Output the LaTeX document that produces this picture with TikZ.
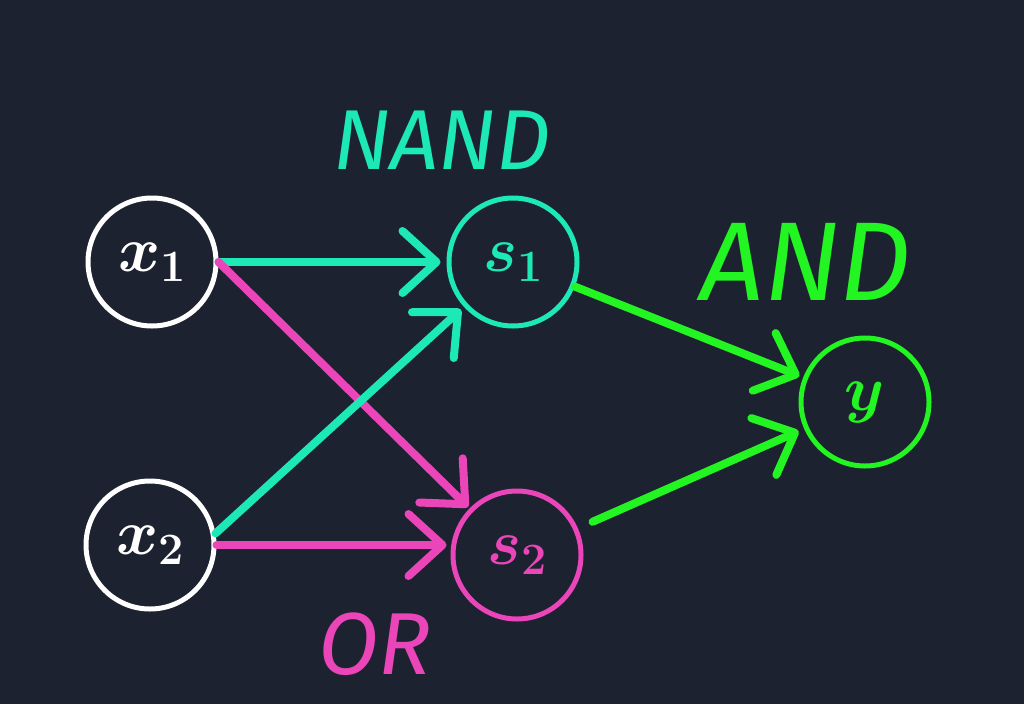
\documentclass[tikz,border=0pt]{standalone}
\usepackage{fix-cm}
\usepackage{fontspec}
\setsansfont{Fira Sans}
\usetikzlibrary{arrows.meta}
\definecolor{bg}{HTML}{1D2230}
\definecolor{teal}{HTML}{1DE9B6}
\definecolor{pink}{HTML}{EA45B9}
\definecolor{lime}{HTML}{22F522}
\tikzset{
  unit/.style={circle, draw=#1, line width=5pt, minimum size=128pt, inner sep=0pt, text=#1,
    font=\fontsize{64}{64}\selectfont\boldmath},
  link/.style={draw=#1, line width=8pt, line cap=round,
    -{Straight Barb[length=34pt,width=62pt,line cap=round,line join=round]}},
  gate/.style={text=#1, font=\sffamily\itshape\fontsize{85}{90}\selectfont}
}
\begin{document}
\begin{tikzpicture}[x=1pt,y=-1pt]
   \fill[bg] (0,0) rectangle (1024,704);
   \useasboundingbox (0,0) rectangle (1024,704);
   % inputs
   \node[unit=white] (x1) at (152,262) {$x_1$};
   \node[unit=white] (x2) at (150,545) {$x_2$};
   % hidden layer
   \node[unit=teal] (s1) at (513,262) {$s_1$};
   \node[unit=pink] (s2) at (517,555) {$s_2$};
   % output
   \node[unit=lime] (y) at (865,402) {$y$};
   \node[gate=teal] (nand) at (442,140) {NAND};
   \node[gate=pink, font=\sffamily\itshape\fontsize{88}{88}\selectfont] (or) at (375,644) {OR};
   \node[gate=lime, font=\sffamily\itshape\fontsize{112}{112}\selectfont] (and) at (806,262) {AND};
   \draw[link=teal, shorten >=6pt] (x1.east) -- (s1);
   \draw[link=pink, shorten >=2pt] (x1.east) -- (s2);
   \draw[link=teal, shorten >=4pt] (x2.10) -- (s1);
   \draw[link=pink, shorten >=4pt] (x2.east) -- (s2.west |- x2.east);
   \draw[link=lime, shorten >=4pt] (s1) -- (y);
   \draw[link=lime, shorten <=16pt, shorten >=6pt] (s2) -- (y);
\end{tikzpicture}
\end{document}
